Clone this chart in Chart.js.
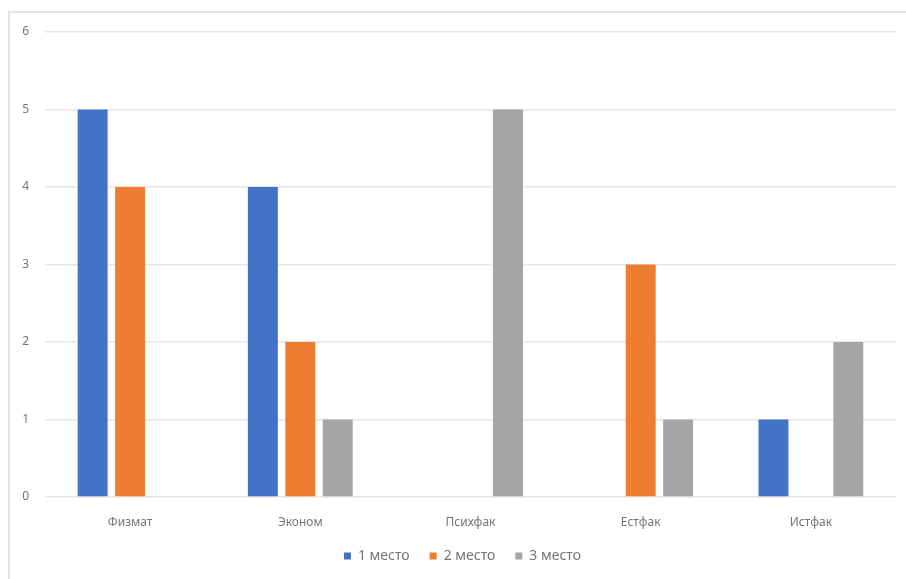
<!DOCTYPE html>
<html>
<head>
<meta charset="utf-8">
<script src="https://cdn.jsdelivr.net/npm/chart.js@4"></script>
<style>
  html, body { margin: 0; padding: 0; background: #fff; }
  #wrap { position: relative; width: 906px; height: 579px; }
  #frame {
    position: absolute; left: 8px; top: 11px; right: 0; bottom: 0;
    border-left: 2px solid #e3e3e3; border-top: 2px solid #e3e3e3;
  }
  canvas { position: absolute; left: 0; top: 0; }
</style>
</head>
<body>
<div id="wrap">
  <div id="frame"></div>
  <canvas id="myChart" width="906" height="579"></canvas>
</div>
<script>
// chart data
const categories = ['Физмат', 'Эконом', 'Психфак', 'Естфак', 'Истфак'];
const seriesNames = ['1 место', '2 место', '3 место'];
const place1 = [5, 4, 0, 0, 1];
const place2 = [4, 2, 0, 3, 0];
const place3 = [0, 1, 5, 1, 2];
const yTicks = [0, 1, 2, 3, 4, 5, 6];

const colors = ['#4472C4', '#ED7D31', '#A5A5A5'];
const textColor = '#757575';

const ctx = document.getElementById('myChart');

// nudge the legend a little to the left, like the original
const legendShift = {
  id: 'legendShift',
  afterLayout(chart) {
    if (!chart.legend) return;
    chart.legend.left -= 8;
    chart.legend.right -= 8;
  },
};

new Chart(ctx, {
  type: 'bar',
  data: {
    labels: categories,
    datasets: [place1, place2, place3].map((values, i) => ({
      label: seriesNames[i],
      data: values,
      backgroundColor: colors[i],
      borderWidth: 0,
      categoryPercentage: 0.66,
      barPercentage: 0.8,
    })),
  },
  options: {
    responsive: false,
    animation: false,
    layout: {
      padding: { left: 10, right: 10, top: 32, bottom: 6 },
    },
    plugins: {
      tooltip: { enabled: false },
      legend: {
        position: 'bottom',
        fullSize: false,
        labels: {
          boxWidth: 7,
          boxHeight: 7,
          padding: 20,
          color: textColor,
          font: { family: 'Noto Sans', size: 14 },
        },
      },
    },
    scales: {
      x: {
        grid: { display: false },
        border: { display: false },
        ticks: {
          color: textColor,
          font: { family: 'Noto Sans', size: 12 },
          padding: 10,
        },
        afterFit: (scale) => { scale.height = 32; },
      },
      y: {
        min: 0,
        max: 6,
        afterBuildTicks: (scale) => {
          scale.ticks = yTicks.map((v) => ({ value: v }));
        },
        grid: { color: '#e6e6e6', lineWidth: 1.5, drawTicks: false },
        border: { display: false },
        ticks: {
          color: textColor,
          font: { family: 'Noto Sans', size: 12 },
          padding: 16,
        },
        afterFit: (scale) => { scale.width = 35; },
      },
    },
  },
  plugins: [legendShift],
});
</script>
</body>
</html>
